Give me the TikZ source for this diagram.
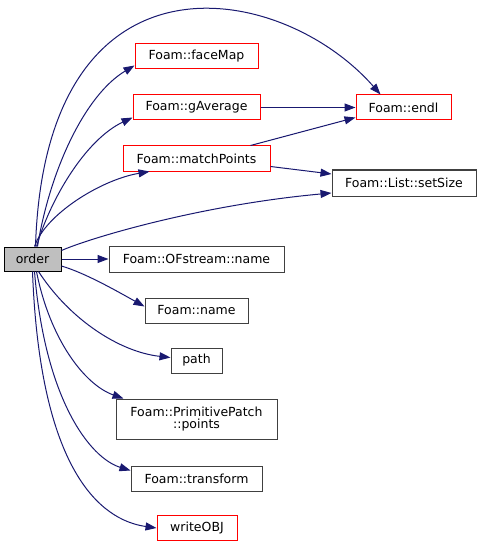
\documentclass[tikz,border=0pt]{standalone}
\usepackage{fontspec}
\setmainfont{DejaVu Sans}
\usetikzlibrary{arrows.meta}
\definecolor{edgec}{HTML}{191970}
\definecolor{boxgray}{HTML}{404040}
\definecolor{fillgray}{HTML}{BFBFBF}
\tikzset{
  fn/.style={draw=boxgray, line width=1pt, fill=white, inner sep=0pt, align=center,
    font=\fontsize{12.5}{14}\selectfont},
  fnred/.style={fn, draw=red},
  cur/.style={fn, draw=black, fill=fillgray},
  call/.style={draw=edgec, line width=1pt, -{Triangle[length=11pt,width=8pt]}},
}
\begin{document}
\begin{tikzpicture}[x=1pt,y=-1pt]
\useasboundingbox (0,0) rectangle (481,548);
\node[cur,   minimum width=57pt,  minimum height=24pt] (order) at (32.5,259) {order};
\node[fnred, minimum width=123pt, minimum height=25pt] (facemap) at (196.5,56.5) {Foam::faceMap};
\node[fnred, minimum width=127pt, minimum height=25pt] (gavg) at (196.5,107.5) {Foam::gAverage};
\node[fnred, minimum width=95pt,  minimum height=25pt] (endl) at (403.5,107.5) {Foam::endl};
\node[fnred, minimum width=147pt, minimum height=25pt] (match) at (196.5,158.5) {Foam::matchPoints};
\node[fn,    minimum width=144pt, minimum height=26pt] (setsize) at (404,183) {Foam::List::setSize};
\node[fn,    minimum width=175pt, minimum height=26pt] (ofname) at (196.5,259) {Foam::OFstream::name};
\node[fn,    minimum width=103pt, minimum height=25pt] (name) at (196.5,310.5) {Foam::name};
\node[fn,    minimum width=51pt,  minimum height=25pt] (path) at (196.5,360.5) {path};
\node[fn,    minimum width=161pt, minimum height=40pt] (points) at (196.5,419) {Foam::PrimitivePatch\\[-2pt]::points};
\node[fn,    minimum width=131pt, minimum height=25pt] (transform) at (196.5,478.5) {Foam::transform};
\node[fnred, minimum width=80pt,  minimum height=25pt] (writeobj) at (197,528) {writeOBJ};

\draw[call] ([xshift=3pt]order.north) .. controls (45,-60) and (280,-20) .. ([xshift=-23pt]endl.north);
\draw[call] ([xshift=5pt]order.north) .. controls (50,170) and (85,95) .. ([yshift=4pt]facemap.south west);
\draw[call] ([xshift=4pt]order.north) .. controls (50,200) and (85,140) .. ([yshift=3pt]gavg.south west);
\draw[call] ([xshift=2pt]order.north) .. controls (45,215) and (100,180) .. ([xshift=27pt]match.south west);
\draw[call] ([yshift=-4pt]order.north east) .. controls (90,238) and (200,205) .. ([yshift=-10pt]setsize.west);
\draw[call] ([yshift=-8pt]match.east) -- ([yshift=9pt]setsize.west);
\draw[call] ([xshift=-20pt]match.north east) -- ([yshift=3pt]endl.south west);
\draw[call] (gavg.east) -- (endl.west);
\draw[call] (order.east) -- (ofname.west);
\draw[call] ([yshift=-7pt]order.east) .. controls (85,273) and (115,290) .. ([yshift=4pt]name.west);
\draw[call] ([xshift=6pt]order.south) .. controls (70,320) and (120,352) .. ([yshift=3pt]path.west);
\draw[call] ([xshift=4pt]order.south) .. controls (50,340) and (85,385) .. ([xshift=8pt]points.north west);
\draw[call] ([xshift=2pt]order.south) .. controls (45,400) and (90,458) .. ([yshift=-5pt]transform.north west);
\draw[call] (order.south) .. controls (40,470) and (100,520) .. (writeobj.west);
\end{tikzpicture}
\end{document}
